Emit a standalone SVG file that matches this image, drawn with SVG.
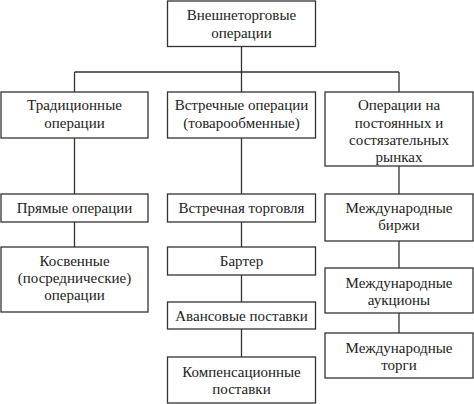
<svg xmlns="http://www.w3.org/2000/svg" width="474" height="404" viewBox="0 0 474 404">
<rect width="474" height="404" fill="#fff"/>
<g id="connectors" fill="none" stroke="#333" stroke-width="1.3">
<path d="M241.5 46.5V72M74.5 72H399M74.5 72V92M241.5 72V92M399 72V92"/>
<path d="M74.5 138V194M74.5 222V247"/>
<path d="M241.5 138V194M241.5 222V247M241.5 275V302M241.5 329V357"/>
<path d="M399 166V194M399 241V268M399 313V333"/>
</g>
<g id="nodes" font-family="Liberation Serif" font-size="15" text-anchor="middle">
<g id="root">
<rect x="167.5" y="1" width="148" height="45.5" fill="#fff" stroke="#333" stroke-width="1.3"/>
<text fill="#222" x="241.5" y="20">Внешнеторговые</text>
<text fill="#222" x="241.5" y="38">операции</text>
</g>
<g id="traditional">
<rect x="1" y="92" width="147" height="46" fill="#fff" stroke="#333" stroke-width="1.3"/>
<text fill="#222" x="74.5" y="110">Традиционные</text>
<text fill="#222" x="74.5" y="128">операции</text>
</g>
<g id="counter">
<rect x="167.5" y="92" width="148" height="46" fill="#fff" stroke="#333" stroke-width="1.3"/>
<text fill="#222" x="241.5" y="110">Встречные операции</text>
<text fill="#222" x="241.5" y="128">(товарообменные)</text>
</g>
<g id="markets">
<rect x="325" y="92" width="148" height="74" fill="#fff" stroke="#333" stroke-width="1.3"/>
<text fill="#222" x="399" y="110">Операции на</text>
<text fill="#222" x="399" y="127.5">постоянных и</text>
<text fill="#222" x="399" y="145">состязательных</text>
<text fill="#222" x="399" y="162">рынках</text>
</g>
<g id="direct">
<rect x="1" y="194" width="147" height="28" fill="#fff" stroke="#333" stroke-width="1.3"/>
<text fill="#222" x="74.5" y="213">Прямые операции</text>
</g>
<g id="indirect">
<rect x="1" y="247" width="147" height="65" fill="#fff" stroke="#333" stroke-width="1.3"/>
<text fill="#222" x="74.5" y="266">Косвенные</text>
<text fill="#222" x="74.5" y="283">(посреднические)</text>
<text fill="#222" x="74.5" y="300">операции</text>
</g>
<g id="countertrade">
<rect x="167.5" y="194" width="148" height="28" fill="#fff" stroke="#333" stroke-width="1.3"/>
<text fill="#222" x="241.5" y="213">Встречная торговля</text>
</g>
<g id="barter">
<rect x="167.5" y="247" width="148" height="28" fill="#fff" stroke="#333" stroke-width="1.3"/>
<text fill="#222" x="241.5" y="266">Бартер</text>
</g>
<g id="advance">
<rect x="167.5" y="302" width="148" height="27" fill="#fff" stroke="#333" stroke-width="1.3"/>
<text fill="#222" x="241.5" y="321">Авансовые поставки</text>
</g>
<g id="compensation">
<rect x="167.5" y="357" width="148" height="46" fill="#fff" stroke="#333" stroke-width="1.3"/>
<text fill="#222" x="241.5" y="377">Компенсационные</text>
<text fill="#222" x="241.5" y="394">поставки</text>
</g>
<g id="exchanges">
<rect x="325" y="194" width="148" height="47" fill="#fff" stroke="#333" stroke-width="1.3"/>
<text fill="#222" x="399" y="213">Международные</text>
<text fill="#222" x="399" y="230">биржи</text>
</g>
<g id="auctions">
<rect x="325" y="268" width="148" height="45" fill="#fff" stroke="#333" stroke-width="1.3"/>
<text fill="#222" x="399" y="288">Международные</text>
<text fill="#222" x="399" y="305">аукционы</text>
</g>
<g id="tenders">
<rect x="325" y="333" width="148" height="45" fill="#fff" stroke="#333" stroke-width="1.3"/>
<text fill="#222" x="399" y="353">Международные</text>
<text fill="#222" x="399" y="370">торги</text>
</g>
</g>
</svg>
